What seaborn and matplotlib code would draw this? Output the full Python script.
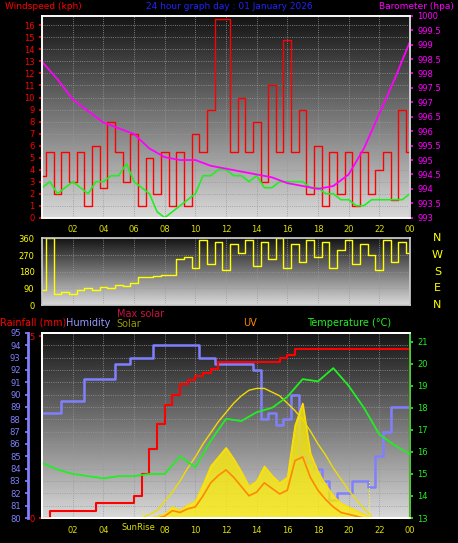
import matplotlib
matplotlib.use("Agg")
import matplotlib.pyplot as plt
import numpy as np
import seaborn as sns

sns.set_theme(style="dark")
plt.rcParams['font.family'] = ['DejaVu Sans']

# half-hourly time base
hours = [h / 2 for h in range(49)]
hourly = list(range(25))

wind = [3.5, 5.5, 2, 5.5, 3, 5.5, 1, 6, 2.5, 8, 5.5, 3, 7, 1, 5, 2, 5.5, 1, 5.5, 1,
        7, 5.5, 9, 16.5, 16.5, 5.5, 10, 5.5, 8, 3, 11, 5.5, 14.8, 5.5, 9, 2, 6, 1, 5.5, 2,
        5.5, 1, 5.5, 2, 4, 5.5, 1.5, 9, 5.5]
gust = [2.5, 3, 2, 2.5, 3, 2.5, 2, 3, 3, 3.5, 3.5, 4.5, 3, 2.5, 2, 0.5, 0, 0.5, 1, 1.5,
        2, 3.5, 3.5, 4, 4, 3.5, 3.5, 3, 3.5, 2.5, 2.5, 3, 3, 3, 3, 2.5, 2.5, 2, 2, 1.5,
        1.5, 1, 1, 1.5, 1.5, 1.5, 1.5, 1.5, 2]
baro = [998.4, 997.8, 997.1, 996.7, 996.3, 996.1, 995.9, 995.4, 995.1, 995.0, 995.0, 994.8,
        994.7, 994.6, 994.5, 994.4, 994.2, 994.1, 994.0, 994.1, 994.5, 995.4, 996.6, 997.8, 999.1]

wind_dir = [80, 360, 60, 70, 60, 80, 90, 80, 100, 95, 110, 105, 120, 150, 150, 155, 160, 160,
            250, 260, 200, 350, 220, 340, 190, 330, 280, 350, 210, 340, 250, 360, 200, 330,
            230, 350, 260, 340, 200, 300, 350, 220, 330, 270, 190, 350, 230, 340, 280]

humidity = [88.5, 88.5, 88.5, 89.5, 89.5, 89.5, 91.3, 91.3, 91.3, 91.3, 92.5, 92.5, 93, 93,
            93, 94, 94, 94, 94, 94, 94, 93, 93, 92.5, 92.5, 92.5, 92.5, 92.5, 92, 88, 88.5, 87.5,
            88, 90, 85, 84.5, 84, 83, 81.5, 82, 82, 83, 83, 82.5, 85, 87, 89, 89, 89]
rain = [0, 0.2, 0.2, 0.2, 0.2, 0.2, 0.2, 0.4, 0.4, 0.4, 0.4, 0.4, 0.6, 1.2, 1.9, 2.6, 3.1, 3.4,
        3.7, 3.8, 3.9, 4.0, 4.1, 4.3, 4.3, 4.3, 4.3, 4.3, 4.3, 4.3, 4.3, 4.4, 4.5, 4.65,
        4.65, 4.65, 4.65, 4.65, 4.65, 4.65, 4.65, 4.65, 4.65, 4.65, 4.65, 4.65, 4.65, 4.65, 0]
temp = [15.5, 15.2, 15.0, 14.9, 14.8, 14.9, 14.9, 15.0, 15.0, 15.8, 15.3, 16.5, 17.5, 17.4,
        17.8, 18.0, 18.5, 19.3, 19.2, 19.8, 19.0, 18.0, 16.8, 16.3, 15.9]

sun_hours = [h / 2 for h in range(13, 44)]
max_solar = [0, 0.02, 0.04, 0.09, 0.14, 0.20, 0.27, 0.33, 0.40, 0.46, 0.52, 0.57, 0.62, 0.66,
             0.69, 0.70, 0.70, 0.68, 0.66, 0.62, 0.58, 0.53, 0.47, 0.40, 0.34, 0.27, 0.21, 0.15,
             0.10, 0.05, 0.01]
solar = [0, 0, 0.01, 0.02, 0.06, 0.04, 0.07, 0.09, 0.18, 0.28, 0.33, 0.38, 0.32, 0.25, 0.17,
         0.20, 0.28, 0.23, 0.19, 0.22, 0.50, 0.62, 0.35, 0.25, 0.18, 0.12, 0.08, 0.06, 0.04, 0.02, 0]
uv = [0, 0, 0, 0.01, 0.04, 0.03, 0.05, 0.06, 0.12, 0.19, 0.23, 0.26, 0.22, 0.17, 0.12,
      0.14, 0.19, 0.16, 0.13, 0.15, 0.31, 0.33, 0.22, 0.15, 0.10, 0.06, 0.03, 0.02, 0.01, 0, 0]

xticks = list(range(2, 25, 2))
xlabels = ["%02d" % (h % 24) for h in xticks]

fig = plt.figure(figsize=(4.58, 5.43), dpi=100, facecolor="black")
ax1 = fig.add_axes([0.092, 0.599, 0.803, 0.372])
ax2 = fig.add_axes([0.092, 0.438, 0.803, 0.123])
ax3 = fig.add_axes([0.092, 0.046, 0.803, 0.341])

grad = np.linspace(0.08, 0.85, 256).reshape(-1, 1)
for ax in (ax1, ax2, ax3):
    ax.imshow(grad, cmap="gray", aspect="auto", extent=[0, 1, 0, 1],
              transform=ax.transAxes, zorder=0, vmin=0, vmax=1)
    ax.set_xlim(0, 24)
    ax.set_xticks(xticks)
    ax.grid(True, color="#999999", linestyle=":", linewidth=0.6)
    for s in ax.spines.values():
        s.set_color("#cccccc")
    ax.tick_params(axis="x", colors="#dddd00", labelsize=6, length=2)

def style_y(ax, color):
    ax.tick_params(axis="y", colors=color, labelsize=6, length=2)

# top panel
sns.lineplot(x=hours, y=wind, ax=ax1, color="red", linewidth=1, drawstyle="steps-mid", zorder=3)
sns.lineplot(x=hours, y=gust, ax=ax1, color="#22ee22", linewidth=1.2, zorder=4)
ax1.set_ylim(0, 16.8)
ax1.set_yticks(range(0, 17))
ax1.set_xticklabels(xlabels)
style_y(ax1, "red")
ax1b = ax1.twinx()
sns.lineplot(x=hourly, y=baro, ax=ax1b, color="#ff00ff", linewidth=1.3)
ax1b.set_ylim(993, 1000)
ax1b.set_yticks(np.arange(993, 1000.01, 0.5))
ax1b.set_yticklabels(["%g" % v for v in np.arange(993, 1000.01, 0.5)])
style_y(ax1b, "#ff00ff")
ax1b.grid(False)

# middle panel
sns.lineplot(x=hours, y=wind_dir, ax=ax2, color="yellow", linewidth=1, drawstyle="steps-mid")
ax2.set_ylim(0, 360)
ax2.set_yticks([0, 90, 180, 270, 360])
ax2.set_xticklabels([])
style_y(ax2, "yellow")
for lab, v in zip(["N", "W", "S", "E", "N"], [360, 270, 180, 90, 0]):
    ax2.text(1.075, v / 360, lab, transform=ax2.transAxes, color="#ffff00",
             fontsize=8, ha="center", va="center")

# bottom panel
sns.lineplot(x=hours, y=humidity, ax=ax3, color="#8080ff", linewidth=1.8, drawstyle="steps-mid", zorder=4)
ax3.set_ylim(80, 95)
ax3.set_yticks(range(80, 96))
ax3.spines["left"].set_position(("outward", 10))
ax3.spines["left"].set_color("#8080ff")
ax3.spines["left"].set_linewidth(2)
style_y(ax3, "#8080ff")
# sunrise label sits where "06" would be
ax3.set_xticklabels(["" if l == "06" else l for l in xlabels])

axs = ax3.twinx()
axs.fill_between(sun_hours, solar, color="#ffee00", alpha=0.75, zorder=1)
sns.lineplot(x=sun_hours, y=solar, ax=axs, color="#ffdd00", linewidth=0.8)
sns.lineplot(x=sun_hours, y=uv, ax=axs, color="#ff8800", linewidth=1.2)
sns.lineplot(x=sun_hours, y=max_solar, ax=axs, color="#eedd00", linewidth=1)
axs.set_ylim(0, 1)
axs.set_yticks([])
axs.grid(False)
axs.axvline(6.5, ymax=0.05, color="yellow", linestyle=":", linewidth=0.8)
axs.axvline(21.3, ymax=0.2, color="yellow", linestyle=":", linewidth=0.8)

axr = ax3.twinx()
sns.lineplot(x=hours, y=rain, ax=axr, color="red", linewidth=1.5, drawstyle="steps-post", zorder=5)
axr.set_ylim(0, 5.1)
axr.yaxis.tick_left()
axr.set_yticks([0, 5])
style_y(axr, "red")
axr.grid(False)

axt = ax3.twinx()
sns.lineplot(x=hourly, y=temp, ax=axt, color="#22ee22", linewidth=1.3)
axt.set_ylim(13, 21.4)
axt.set_yticks(range(13, 22))
style_y(axt, "#22ee22")
axt.grid(False)
for a in (axs, axr, axt, ax1b):
    a.set_ylabel("")
    a.spines["right"].set_color("#33cc33" if a is axt else "#cccccc")
ax3.text(6.3, -0.025, "SunRise", transform=ax3.get_xaxis_transform(), color="#dddd00",
         fontsize=6, ha="center", va="top")

# header texts
fig.text(0.01, 0.988, "Windspeed (kph)", color="red", fontsize=6.5, va="center")
fig.text(0.5, 0.988, "24 hour graph day : 01 January 2026", color="#2222ff", fontsize=6.5,
         ha="center", va="center")
fig.text(0.99, 0.988, "Barometer (hpa)", color="#ff00ff", fontsize=6.5, ha="right", va="center")
fig.text(0.0, 0.406, "Rainfall (mm)", color="red", fontsize=7, va="center")
fig.text(0.145, 0.406, "Humidity", color="#9999ff", fontsize=7, va="center")
fig.text(0.255, 0.421, "Max solar", color="#cc1144", fontsize=7, va="center")
fig.text(0.255, 0.404, "Solar", color="#999900", fontsize=7, va="center")
fig.text(0.53, 0.406, "UV", color="#ff8800", fontsize=7, va="center")
fig.text(0.67, 0.406, "Temperature (°C)", color="#22ee22", fontsize=7, va="center")

fig.savefig("out.png", dpi=100, facecolor="black")
